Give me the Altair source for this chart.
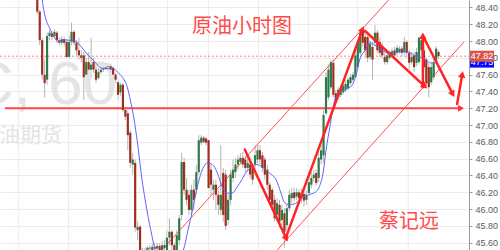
import math
import altair as alt
import pandas as pd

# ---- hourly crude oil candles (price) ----
opens = [48.61, 48.35, 48.01, 47.60, 47.54, 48.06, 48.09, 48.06, 48.10, 48.01,
         47.98, 48.02, 47.99, 47.81, 47.99, 48.11, 47.98, 47.89, 47.83, 47.83,
         47.60, 47.75, 47.66, 47.75, 47.66, 47.56, 47.63, 47.66, 47.67, 47.69,
         47.70, 47.68, 47.60, 47.51, 47.39, 47.48, 47.18, 47.14, 46.91, 46.53,
         46.55, 45.75, 45.79, 45.51, 45.46, 45.51, 45.54, 45.51, 45.55, 45.53,
         45.56, 45.51, 45.57, 45.51, 45.66, 45.73, 45.57, 45.51, 45.63, 45.93,
         46.56, 46.23, 46.17, 45.99, 46.23, 46.23, 46.44, 46.79, 46.85, 46.84,
         46.82, 46.47, 46.23, 46.29, 46.17, 45.99, 46.43, 46.41, 45.87, 46.11,
         46.37, 46.44, 46.53, 46.56, 46.61, 46.59, 46.49, 46.53, 46.49, 46.53,
         46.59, 46.70, 46.64, 46.59, 46.47, 46.29, 46.23, 46.11, 45.93, 46.05,
         45.87, 45.95, 45.81, 46.01, 46.13, 46.20, 46.15, 46.20, 46.13, 46.18,
         46.11, 46.19, 46.29, 46.37, 46.43, 46.37, 46.59, 46.64, 47.14, 47.33,
         47.45, 47.74, 47.38, 47.33, 47.36, 47.39, 47.42, 47.44, 47.50, 47.54,
         47.57, 47.69, 47.86, 48.11, 48.05, 48.05, 47.81, 47.93, 47.98, 48.10,
         47.99, 47.93, 47.81, 47.75, 47.80, 47.82, 47.89, 47.86, 47.87, 47.91,
         47.87, 47.99, 47.86, 47.75, 47.83, 47.74, 47.75, 47.89, 47.89, 47.78,
         47.69, 47.51, 47.57, 47.75, 47.87]
highs = [48.67, 48.37, 48.04, 47.78, 48.10, 48.13, 48.12, 48.14, 48.12, 48.05,
         48.06, 48.05, 48.01, 48.07, 48.22, 48.13, 48.01, 48.04, 47.89, 47.87,
         47.80, 47.87, 48.04, 47.80, 47.70, 47.68, 47.70, 47.72, 47.73, 47.74,
         47.73, 47.70, 47.62, 47.54, 47.50, 47.50, 47.20, 47.17, 46.94, 46.67,
         46.59, 45.85, 45.81, 45.54, 45.54, 45.56, 45.57, 45.59, 45.60, 45.60,
         45.59, 45.62, 45.63, 45.75, 45.89, 45.75, 45.60, 45.75, 45.93, 46.67,
         46.61, 46.37, 46.23, 46.29, 46.35, 46.53, 46.88, 46.88, 46.87, 46.86,
         46.86, 46.53, 46.35, 46.35, 46.23, 46.76, 46.49, 46.47, 46.17, 46.47,
         46.59, 46.61, 46.64, 46.67, 46.68, 46.63, 46.61, 46.56, 46.53, 46.76,
         46.76, 46.76, 46.68, 46.62, 46.53, 46.32, 46.26, 46.17, 46.13, 46.11,
         46.05, 46.01, 46.07, 46.23, 46.25, 46.25, 46.25, 46.24, 46.24, 46.23,
         46.22, 46.43, 46.44, 46.47, 46.47, 46.68, 46.76, 47.18, 47.63, 47.72,
         47.78, 47.78, 47.42, 47.45, 47.48, 47.51, 47.54, 47.57, 47.61, 47.63,
         47.89, 48.01, 48.13, 48.14, 48.09, 48.07, 48.01, 47.99, 48.19, 48.13,
         48.04, 47.98, 47.86, 47.87, 47.89, 47.92, 47.93, 47.95, 47.94, 47.94,
         48.05, 48.01, 47.89, 47.87, 47.87, 47.92, 48.06, 48.05, 47.95, 47.81,
         47.74, 47.74, 47.80, 47.94, 47.89]
lows = [48.32, 47.95, 47.54, 47.33, 47.48, 48.01, 48.01, 48.04, 47.98, 47.95,
        47.95, 47.94, 47.80, 47.80, 47.95, 47.95, 47.83, 47.78, 47.75, 47.30,
        47.54, 47.60, 47.56, 47.62, 47.50, 47.54, 47.61, 47.63, 47.66, 47.66,
        47.63, 47.56, 47.50, 47.30, 47.35, 47.16, 47.06, 46.70, 46.49, 46.41,
        45.73, 45.63, 45.46, 45.37, 45.42, 45.49, 45.48, 45.49, 45.47, 45.46,
        45.44, 45.44, 45.48, 45.49, 45.57, 45.51, 45.46, 45.49, 45.57, 45.87,
        46.17, 46.05, 45.93, 45.93, 45.99, 46.17, 46.41, 46.76, 46.78, 46.76,
        46.20, 46.17, 46.11, 45.99, 45.93, 45.93, 45.85, 45.75, 45.81, 46.05,
        46.32, 46.37, 46.47, 46.53, 46.49, 46.44, 46.44, 46.37, 46.29, 46.47,
        46.55, 46.53, 46.44, 46.35, 46.23, 46.05, 45.99, 45.85, 45.87, 45.78,
        45.81, 45.54, 45.75, 45.97, 46.07, 46.09, 46.11, 46.07, 46.07, 46.03,
        46.05, 46.16, 46.25, 46.32, 46.28, 46.32, 46.53, 46.55, 47.12, 47.30,
        47.42, 47.33, 47.26, 47.30, 47.33, 47.36, 47.39, 47.42, 47.48, 47.51,
        47.56, 47.66, 47.83, 47.93, 47.83, 47.75, 47.78, 47.54, 47.94, 47.86,
        47.81, 47.80, 47.72, 47.72, 47.78, 47.80, 47.81, 47.83, 47.85, 47.82,
        47.83, 47.80, 47.66, 47.72, 47.63, 47.70, 47.72, 47.83, 47.66, 47.44,
        47.33, 47.48, 47.54, 47.73, 47.79]
closes = [48.35, 48.01, 47.60, 47.50, 48.06, 48.10, 48.05, 48.11, 48.01, 47.98,
          48.02, 47.98, 47.81, 47.99, 48.11, 47.98, 47.89, 47.83, 47.80, 47.57,
          47.75, 47.66, 47.72, 47.66, 47.54, 47.63, 47.66, 47.67, 47.69, 47.70,
          47.66, 47.60, 47.54, 47.36, 47.48, 47.18, 47.10, 46.88, 46.55, 46.59,
          45.78, 45.79, 45.51, 45.42, 45.49, 45.54, 45.53, 45.55, 45.53, 45.56,
          45.51, 45.57, 45.54, 45.66, 45.73, 45.57, 45.51, 45.69, 45.89, 46.56,
          46.23, 46.11, 45.99, 46.23, 46.11, 46.44, 46.82, 46.85, 46.80, 46.79,
          46.25, 46.29, 46.29, 46.17, 46.05, 46.17, 45.93, 45.80, 46.11, 46.41,
          46.47, 46.53, 46.59, 46.61, 46.53, 46.49, 46.55, 46.41, 46.35, 46.64,
          46.70, 46.59, 46.49, 46.41, 46.29, 46.11, 46.05, 45.89, 46.07, 45.85,
          45.99, 45.73, 46.01, 46.17, 46.19, 46.13, 46.20, 46.13, 46.19, 46.10,
          46.17, 46.32, 46.37, 46.41, 46.31, 46.61, 46.70, 47.12, 47.57, 47.66,
          47.75, 47.36, 47.30, 47.42, 47.44, 47.47, 47.49, 47.54, 47.57, 47.60,
          47.83, 47.98, 48.10, 47.98, 47.89, 47.80, 47.97, 47.78, 48.10, 47.89,
          47.86, 47.83, 47.75, 47.83, 47.86, 47.88, 47.83, 47.92, 47.91, 47.86,
          47.99, 47.86, 47.74, 47.81, 47.69, 47.87, 48.04, 48.01, 47.69, 47.50,
          47.45, 47.69, 47.74, 47.91, 47.82]

# ---- moving average (blue) read at bar positions ----
ma_idx = [1.0, 2.0, 3.6, 4.8, 6.8, 8.8, 10.0, 12.8, 15.6, 18.0,
          20.8, 23.6, 26.0, 28.8, 30.8, 32.8, 34.8, 36.8, 38.0, 39.6,
          40.8, 42.8, 44.8, 46.8, 48.4, 50.8, 54.8, 58.0, 59.6, 61.6,
          63.6, 65.6, 67.6, 69.6, 71.6, 73.6, 75.6, 77.6, 79.6, 81.6,
          83.6, 85.6, 87.6, 89.6, 92.0, 94.8, 97.6, 99.6, 100.8, 102.8,
          105.6, 108.0, 110.8, 113.6, 115.6, 116.8, 118.0, 119.6, 121.6, 123.6,
          126.0, 128.8, 130.0, 132.0, 134.0, 136.0, 138.0, 140.8, 143.6, 146.0,
          148.8, 151.6, 154.0, 156.8, 158.8, 160.8, 162.8]
ma_val = [48.75, 48.49, 48.25, 48.17, 48.05, 47.99, 48.02, 48.01, 48.00, 47.93,
          47.83, 47.75, 47.68, 47.67, 47.68, 47.63, 47.57, 47.45, 47.30, 47.06,
          46.82, 46.35, 45.99, 45.69, 45.51, 45.48, 45.44, 45.47, 45.51, 45.75,
          46.01, 46.29, 46.48, 46.55, 46.53, 46.43, 46.26, 46.19, 46.19, 46.26,
          46.35, 46.45, 46.50, 46.53, 46.50, 46.43, 46.35, 46.19, 46.09, 46.05,
          46.07, 46.13, 46.17, 46.20, 46.29, 46.43, 46.70, 46.98, 47.30, 47.38,
          47.42, 47.48, 47.57, 47.80, 47.89, 47.98, 47.95, 47.89, 47.86, 47.87,
          47.87, 47.87, 47.83, 47.80, 47.78, 47.74, 47.75]

# ---- time grid and price ticks ----
time_grid = [-7.6, 12.8, 32.8, 53.2, 70.0, 90.4, 110.8, 130.8, 151.6]
price_ticks = [45.6, 45.8, 46.0, 46.2, 46.4, 46.6, 46.8, 47.0, 47.2,
               47.4, 47.6, 47.8, 48.0, 48.2, 48.4]

# ---- hand-drawn channel lines and arrows (bar index, price) ----
channel_start = [(50.8, 45.51), (98.0, 45.51)]
channel_end = [(143.6, 48.49), (174.4, 47.99)]
arrow_start = [(84.8, 46.71), (101.6, 45.66), (134.0, 48.12), (157.6, 47.45),
               (158.0, 48.04), (171.6, 47.25)]
arrow_end = [(101.6, 45.66), (132.8, 48.13), (158.0, 47.47), (157.6, 48.05),
             (169.6, 47.38), (173.6, 47.59)]
support_level = 47.20
support_end = 172.8

last_price = 47.82
ma_last = 47.75

# ---- geometry ----
W, H = 469, 250
X0, X1 = -13.2, 174.4
Y0, Y1 = 45.513, 48.489
xs = alt.Scale(domain=[X0, X1], nice=False, zero=False)
ys = alt.Scale(domain=[Y0, Y1], nice=False, zero=False)
px_per_x = W / (X1 - X0)
px_per_y = H / (Y1 - Y0)


def heading(a, b):
    dx = (b[0] - a[0]) * px_per_x
    dy = (b[1] - a[1]) * px_per_y
    return math.degrees(math.atan2(dx, dy)) % 360


bars = pd.DataFrame({"i": list(range(len(closes))), "open": opens,
                     "high": highs, "low": lows, "close": closes})
bars["dir"] = ["up" if c >= o else "down" for o, c in zip(opens, closes)]

ma = pd.DataFrame({"i": ma_idx, "v": ma_val})
grid = pd.DataFrame({"i": time_grid})

chan = pd.DataFrame({"x": [s[0] for s in channel_start], "y": [s[1] for s in channel_start],
                     "x2": [e[0] for e in channel_end], "y2": [e[1] for e in channel_end]})
arrows = pd.DataFrame({"x": [s[0] for s in arrow_start], "y": [s[1] for s in arrow_start],
                       "x2": [e[0] for e in arrow_end], "y2": [e[1] for e in arrow_end]})
heads = pd.DataFrame({"x": [e[0] for e in arrow_end], "y": [e[1] for e in arrow_end],
                      "ang": [heading(s, e) for s, e in zip(arrow_start, arrow_end)]})
support = pd.DataFrame({"x": [X0], "x2": [support_end], "y": [support_level]})
support_head = pd.DataFrame({"x": [support_end], "y": [support_level], "ang": [90.0]})
last_df = pd.DataFrame({"y": [last_price], "t": [f"{last_price:.2f}"]})
ma_df = pd.DataFrame({"y": [ma_last], "t": [f"{ma_last:.2f}"]})

# one shared price axis on the right, repeated on every layer so it merges
yaxis = alt.Axis(orient="right", values=price_ticks, format=".2f", title=None,
                 labelFontSize=9, labelColor="#5a5a5a", labelFont="Liberation Sans",
                 tickColor="#9a9a9a", tickSize=3, labelPadding=3,
                 domainColor="#9a9a9a", grid=True, gridColor="#ececec")


def Y(field):
    return alt.Y(field, scale=ys, axis=yaxis)


def X(field):
    return alt.X(field, scale=xs, axis=None)


vgrid = alt.Chart(grid).mark_rule(color="#ececec", strokeWidth=1).encode(
    x=X("i:Q"), y=alt.value(0), y2=alt.value(H))

wicks = alt.Chart(bars).mark_rule(color="#b4b4b4", strokeWidth=1, clip=True).encode(
    x=X("i:Q"), y=Y("low:Q"), y2="high:Q")

bodies = alt.Chart(bars).mark_bar(size=2.2, clip=True).encode(
    x=X("i:Q"), y=Y("open:Q"), y2="close:Q",
    color=alt.Color("dir:N", scale=alt.Scale(domain=["up", "down"],
                                             range=["#2f7a4b", "#9e2f20"]), legend=None))

ma_line = alt.Chart(ma).mark_line(color="#6262ff", strokeWidth=1, clip=True,
                                  interpolate="monotone").encode(x=X("i:Q"), y=Y("v:Q"))

last_line = alt.Chart(last_df).mark_rule(color="#f08a8a", strokeWidth=1,
                                         strokeDash=[2, 2]).encode(
    y=Y("y:Q"), x=alt.value(0), x2=alt.value(W))

channels = alt.Chart(chan).mark_rule(color="#ff5050", strokeWidth=1, clip=True).encode(
    x=X("x:Q"), y=Y("y:Q"), x2="x2:Q", y2="y2:Q")

support_line = alt.Chart(support).mark_rule(color="#ff4545", strokeWidth=2).encode(
    x=X("x:Q"), x2="x2:Q", y=Y("y:Q"))
support_tip = alt.Chart(support_head).mark_point(shape="triangle", filled=True, size=45,
                                                 color="#ff3030", opacity=1).encode(
    x=X("x:Q"), y=Y("y:Q"), angle=alt.Angle("ang:Q", scale=None))

arrow_lines = alt.Chart(arrows).mark_rule(color="#ff2424", strokeWidth=2.5,
                                          strokeCap="round").encode(
    x=X("x:Q"), y=Y("y:Q"), x2="x2:Q", y2="y2:Q")
arrow_heads = alt.Chart(heads).mark_point(shape="triangle", filled=True, size=55,
                                          color="#ff2424", opacity=1).encode(
    x=X("x:Q"), y=Y("y:Q"), angle=alt.Angle("ang:Q", scale=None))

# watermark and captions
wm1 = alt.Chart(pd.DataFrame({"t": ["C, 60"]})).mark_text(
    fontSize=62, font="Liberation Sans", color="#e4e4e4", align="left",
    baseline="alphabetic").encode(x=alt.value(-31), y=alt.value(104), text="t:N")
wm2 = alt.Chart(pd.DataFrame({"t": ["原油期货"]})).mark_text(
    fontSize=21, font="Noto Sans CJK SC", color="#e4e4e4", align="left",
    baseline="middle").encode(x=alt.value(-22), y=alt.value(136), text="t:N")
title1 = alt.Chart(pd.DataFrame({"t": ["原油小时图"]})).mark_text(
    fontSize=20, font="Noto Sans CJK SC", color="#ff4a4a", align="center",
    baseline="middle").encode(x=alt.value(242), y=alt.value(27), text="t:N")
title2 = alt.Chart(pd.DataFrame({"t": ["蔡记远"]})).mark_text(
    fontSize=20, font="Noto Sans CJK SC", color="#ff4a4a", align="center",
    baseline="middle").encode(x=alt.value(409), y=alt.value(222), text="t:N")

# price tags on the axis
box = "M-1,-0.46H1V0.46H-1Z"
ma_tag = alt.Chart(ma_df).mark_point(shape=box, filled=True, size=576, color="#0a0aff",
                                     opacity=1).encode(x=alt.value(482), y=Y("y:Q"))
ma_txt = alt.Chart(ma_df).mark_text(fontSize=9, font="Liberation Sans", color="white",
                                    align="center", baseline="middle").encode(
    x=alt.value(482), y=Y("y:Q"), text="t:N")
last_tag = alt.Chart(last_df).mark_point(shape=box, filled=True, size=576, color="#d8574c",
                                         opacity=1).encode(x=alt.value(482), y=Y("y:Q"))
last_txt = alt.Chart(last_df).mark_text(fontSize=9, font="Liberation Sans", color="white",
                                        align="center", baseline="middle").encode(
    x=alt.value(482), y=Y("y:Q"), text="t:N")

chart = alt.layer(
    wicks, vgrid, wm1, wm2, last_line, channels, support_line, support_tip,
    bodies, ma_line, arrow_lines, arrow_heads, title1, title2,
    ma_tag, ma_txt, last_tag, last_txt
).properties(
    width=W, height=H,
    autosize=alt.AutoSizeParams(type="none"),
    padding={"left": 0, "top": 0, "right": 31, "bottom": 0},
    background="white",
).configure_view(stroke=None)

chart.save("out.html", embed_options={"renderer": "svg", "actions": False})
